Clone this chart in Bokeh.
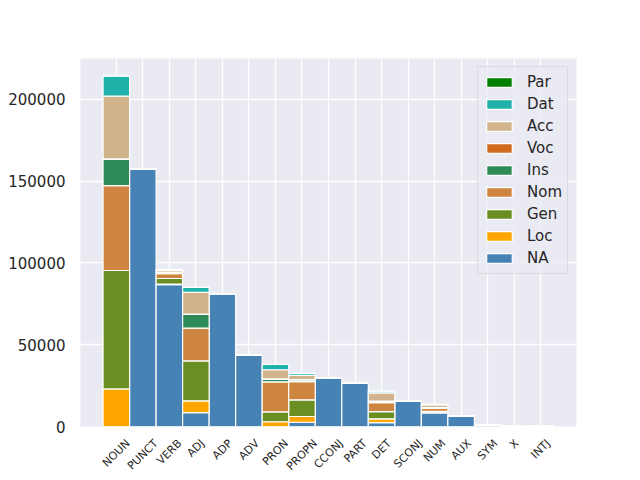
import math
from bokeh.plotting import figure
from bokeh.models import (ColumnDataSource, Range1d, FixedTicker, BasicTickFormatter,
                          Legend, LegendItem)
from bokeh.embed import file_html
from bokeh.resources import INLINE

categories = ["NOUN", "PUNCT", "VERB", "ADJ", "ADP", "ADV", "PRON", "PROPN", "CCONJ",
              "PART", "DET", "SCONJ", "NUM", "AUX", "SYM", "X", "INTJ"]

NA  = [0, 157500, 86800, 8500, 81300, 43450, 0, 2600, 29800, 26350, 2400, 15550, 8350, 6400, 900, 100, 60]
Loc = [23000, 0, 300, 7200, 0, 0, 2900, 3500, 0, 0, 2300, 0, 400, 0, 0, 0, 0]
Gen = [72400, 0, 3400, 24400, 0, 0, 6100, 10200, 0, 0, 4450, 0, 550, 0, 0, 0, 0]
Nom = [51900, 0, 2900, 20100, 0, 0, 18300, 11150, 0, 0, 5450, 0, 1900, 0, 0, 0, 0]
Ins = [16100, 0, 500, 8400, 0, 0, 1700, 1050, 0, 0, 700, 0, 200, 0, 0, 0, 0]
Voc = [200, 0, 200, 200, 0, 0, 200, 200, 0, 0, 300, 0, 100, 0, 0, 0, 0]
Acc = [38400, 0, 1200, 13200, 0, 0, 5500, 2550, 0, 0, 5000, 0, 1750, 0, 0, 0, 0]
Dat = [12200, 0, 700, 3100, 0, 0, 3200, 1200, 0, 0, 1050, 0, 300, 0, 0, 0, 0]
Par = [100, 0, 50, 30, 0, 0, 20, 20, 0, 0, 10, 0, 10, 0, 0, 0, 0]

series_names = ["NA", "Loc", "Gen", "Nom", "Ins", "Voc", "Acc", "Dat", "Par"]
series_values = [NA, Loc, Gen, Nom, Ins, Voc, Acc, Dat, Par]
series_colors = ["#4682B4", "#FFA500", "#6B8E23", "#CD853F", "#2E8B57",
                 "#D2691E", "#D2B48C", "#20B2AA", "#008000"]

yticks = [0, 50000, 100000, 150000, 200000]

data = {"x": list(range(len(categories)))}
for name, vals in zip(series_names, series_values):
    data[name] = vals
source = ColumnDataSource(data)

totals = [sum(v) for v in zip(*series_values)]
n = len(categories)
x0, x1 = -0.5 - 0.05 * n, n - 0.5 + 0.05 * n

W, H = 640, 480
BL, BR, BT, BB = 80, 64, 58, 53
p = figure(width=W, height=H, output_backend="svg", toolbar_location=None,
           x_range=Range1d(x0, x1), y_range=Range1d(0, max(totals) * 1.05),
           min_border_left=BL, min_border_right=BR, min_border_top=BT, min_border_bottom=BB)

p.background_fill_color = "#EAEAF2"
p.border_fill_color = "white"
p.outline_line_color = None

renderers = p.vbar_stack(series_names, x="x", width=1.0, color=series_colors, source=source,
                         line_color="white", line_width=1.2)

# y axis
p.yaxis.ticker = FixedTicker(ticks=yticks)
p.ygrid.ticker = FixedTicker(ticks=yticks)
p.yaxis.formatter = BasicTickFormatter(use_scientific=False)
p.yaxis.axis_line_color = None
p.yaxis.major_tick_line_color = None
p.yaxis.minor_tick_line_color = None
p.yaxis.major_tick_out = 0
p.yaxis.major_tick_in = 0
p.yaxis.minor_tick_out = 0
p.yaxis.major_label_text_font_size = "15px"
p.yaxis.major_label_text_font = "DejaVu Sans"
p.yaxis.major_label_text_color = "#262626"
p.yaxis.major_label_standoff = 15

# x axis: rotated labels, ends shifted so that each label is centred under its bar
char_w = {"A": .684, "B": .686, "C": .698, "D": .770, "E": .632, "F": .575, "I": .295,
          "J": .295, "L": .557, "M": .863, "N": .748, "O": .787, "P": .603, "R": .695,
          "S": .635, "T": .611, "U": .732, "V": .684, "X": .685, "Y": .611}
fs = 11
px_per_unit = (W - BL - BR) / (x1 - x0)
tick_pos, overrides = [], {}
for i, cat in enumerate(categories):
    w = sum(char_w.get(c, 0.65) for c in cat) * fs
    t = round(i + (w / 2) * math.sqrt(0.5) / px_per_unit, 4)
    tick_pos.append(t)
    overrides[t] = cat
p.xaxis.ticker = FixedTicker(ticks=tick_pos)
p.xaxis.major_label_overrides = overrides
p.xaxis.major_label_orientation = math.pi / 4
p.xaxis.major_label_text_font_size = f"{fs}px"
p.xaxis.major_label_text_font = "DejaVu Sans"
p.xaxis.major_label_text_color = "#262626"
p.xaxis.major_label_standoff = 15
p.xaxis.axis_line_color = None
p.xaxis.major_tick_line_color = None
p.xaxis.minor_tick_line_color = None
p.xaxis.major_tick_out = 0
p.xaxis.major_tick_in = 0
p.xaxis.minor_tick_out = 0
p.xgrid.ticker = FixedTicker(ticks=list(range(n)))

for g in (p.xgrid, p.ygrid):
    g.grid_line_color = "white"
    g.grid_line_width = 1.3

items = [LegendItem(label=name, renderers=[r])
         for name, r in reversed(list(zip(series_names, renderers)))]
legend = Legend(items=items, location="top_right", margin=8, padding=5, spacing=2,
                label_height=20, glyph_width=32, glyph_height=12, label_standoff=12,
                label_text_font_size="15px", label_text_font="DejaVu Sans",
                label_text_color="#262626", border_line_color="#CCCCCC",
                border_line_width=1, background_fill_color="#EAEAF2",
                background_fill_alpha=0.8)
p.add_layout(legend)

open("out.html", "w").write(file_html(p, INLINE))
